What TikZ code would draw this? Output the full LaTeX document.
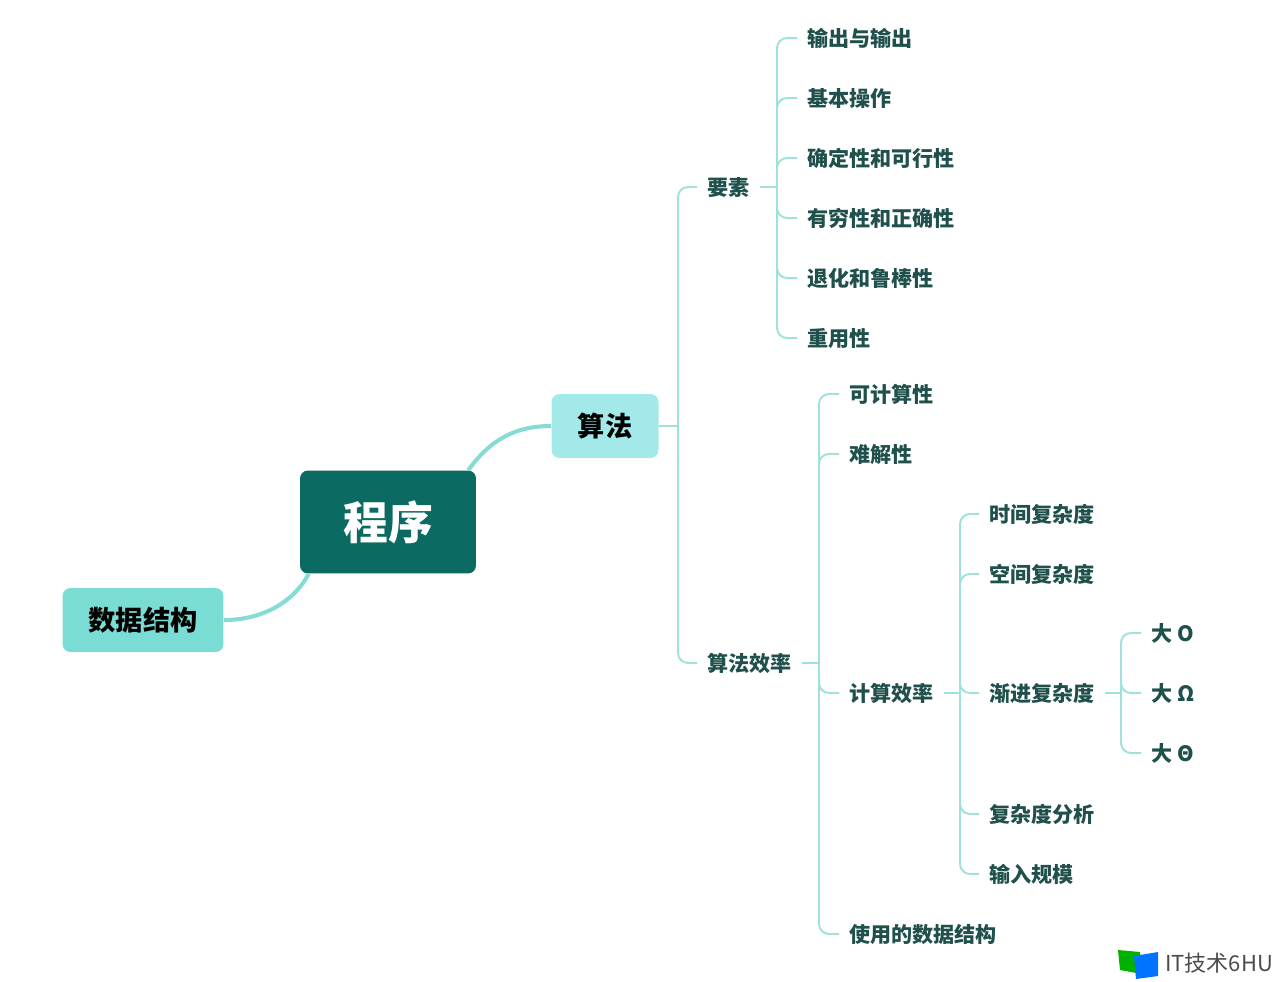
\documentclass[tikz,border=0pt]{standalone}
\usepackage{fontspec}
\setmainfont{Noto Sans CJK SC}
\definecolor{rootfill}{RGB}{11,107,98}
\definecolor{dsfill}{RGB}{121,220,213}
\definecolor{safill}{RGB}{163,233,234}
\definecolor{linecol}{RGB}{160,226,218}
\definecolor{curvecol}{RGB}{134,220,212}
\definecolor{leaftext}{RGB}{31,80,76}
\tikzset{
    leaf/.style={anchor=west, inner xsep=0.2cm, text=leaftext,
        font=\fontsize{12}{14}\selectfont\bfseries,
        text height=0.98em, text depth=0.02em},
    topic/.style={rounded corners=0.16cm, inner sep=0pt,
        minimum height=1.28cm, font=\fontsize{15.5}{18}\selectfont\bfseries},
    branch/.style={draw=linecol, line width=1.1pt, rounded corners=0.2cm},
    mainline/.style={draw=curvecol, line width=2.3pt}
}
\begin{document}
\begin{tikzpicture}[x=0.02cm,y=-0.02cm]
    \useasboundingbox[fill=white] (0,0) rectangle (1280,982);

    \node[topic,
        fill=rootfill,
        text=white,
        minimum width=3.52cm,
        minimum height=2.06cm,
        font=\fontsize{25.5}{30}\selectfont\bfseries
    ] (chengxu) at (388,522){程序};
    \node[topic, fill=dsfill, minimum width=3.22cm] (shuju) at (143,620){数据结构};
    \node[topic, fill=safill, minimum width=2.14cm] (suanfa) at (605,426){算法};

    \draw[mainline] (shuju.east) .. controls (265,620) and (295,600) .. ([xshift=0.18cm]chengxu.south west);
    \draw[mainline] ([xshift=-0.16cm]chengxu.north east) .. controls (490,440) and (515,426) .. (suanfa.west);

    % second level
    \node[leaf] (yaosu) at (697,187){要素};
    \node[leaf] (xiaolv) at (697,663){算法效率};
    \coordinate (b1) at (678,426);
    \draw[branch] (suanfa.east) -- (b1);
    \foreach \n in {yaosu,xiaolv}
        \draw[branch] (b1) |- (\n.west);

    % 要素
    \foreach \n/\t/\y in {y1/输出与输出/38, y2/基本操作/98, y3/确定性和可行性/158,
        y4/有穷性和正确性/218, y5/退化和鲁棒性/278, y6/重用性/338}
        \node[leaf] (\n) at (797,\y){\t};
    \coordinate (b2) at (777,187);
    \draw[branch] (yaosu.east) -- (b2);
    \foreach \n in {y1,y2,y3,y4,y5,y6}
        \draw[branch] (b2) |- (\n.west);

    % 算法效率
    \foreach \n/\t/\y in {x1/可计算性/394, x2/难解性/454, jisuan/计算效率/693,
        x4/使用的数据结构/934}
        \node[leaf] (\n) at (839,\y){\t};
    \coordinate (b3) at (819,663);
    \draw[branch] (xiaolv.east) -- (b3);
    \foreach \n in {x1,x2,jisuan,x4}
        \draw[branch] (b3) |- (\n.west);

    % 计算效率
    \foreach \n/\t/\y in {j1/时间复杂度/514, j2/空间复杂度/574, jianjin/渐进复杂度/693,
        j4/复杂度分析/814, j5/输入规模/874}
        \node[leaf] (\n) at (979,\y){\t};
    \coordinate (b4) at (960,693);
    \draw[branch] (jisuan.east) -- (b4);
    \foreach \n in {j1,j2,jianjin,j4,j5}
        \draw[branch] (b4) |- (\n.west);

    % 渐进复杂度
    \foreach \n/\t/\y in {d1/大 O/633, d2/大 Ω/693, d3/大 Θ/753}
        \node[leaf] (\n) at (1141,\y){\t};
    \coordinate (b5) at (1121,693);
    \draw[branch] (jianjin.east) -- (b5);
    \foreach \n in {d1,d2,d3}
        \draw[branch] (b5) |- (\n.west);

    % watermark
    \fill[green!70!black] (1118,950) -- (1140,952) -- (1142,974) -- (1120,970) -- cycle;
    \fill[blue!55!cyan] (1134,956) -- (1158,952) -- (1158,976) -- (1136,979) -- cycle;
    \node[anchor=west, inner sep=0pt, text=black!70,
        font=\fontsize{12.5}{15}\selectfont] (wm) at (1165,963){IT技术6HU};

\end{tikzpicture}
\end{document}
